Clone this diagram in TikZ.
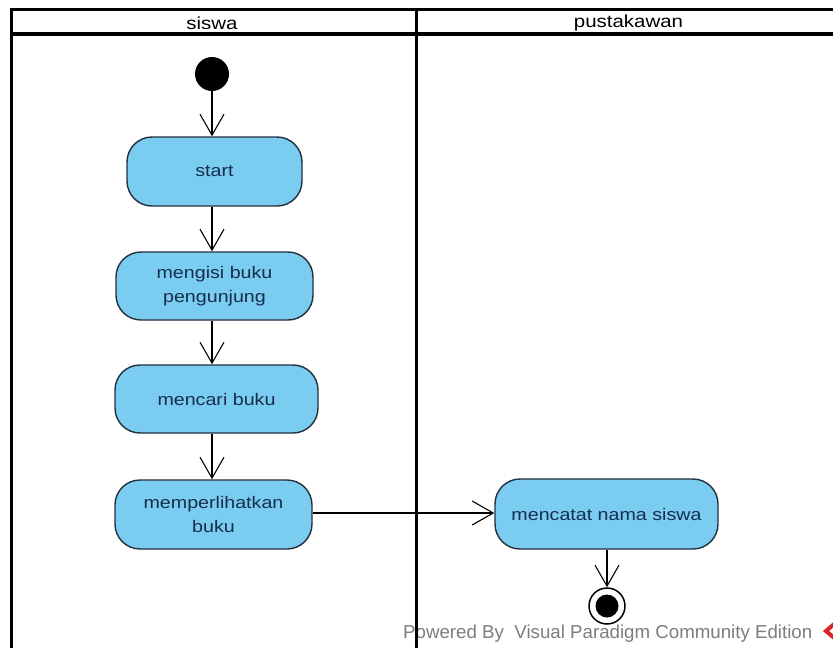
\documentclass[tikz,border=0pt]{standalone}
\usepackage{fontspec}
\setmainfont{Liberation Sans}
\newfontfamily\vpfont[FakeStretch=1.17]{Liberation Sans}
\usetikzlibrary{arrows.meta,positioning}
\definecolor{actfill}{RGB}{122,205,240}
\definecolor{actdraw}{RGB}{35,48,62}
\definecolor{acttext}{RGB}{22,45,75}
\definecolor{wmgray}{RGB}{125,125,125}
\definecolor{vpred}{RGB}{215,40,40}
\tikzset{
  action/.style={draw=actdraw, fill=actfill, line width=1.4pt, rounded corners=25pt,
    inner sep=0pt, align=center, text=acttext,
    font=\vpfont\fontsize{16.8}{24.5}\selectfont},
  lane/.style={line width=3pt, draw=black},
  flow/.style={line width=1.1pt, -{Straight Barb[length=21pt,width=24pt,line width=1.1pt]}},
  header/.style={font=\vpfont\fontsize{17.5}{19}\selectfont, text=black, inner sep=0pt}
}
\begin{document}
\begin{tikzpicture}[x=1pt,y=-1pt]
\useasboundingbox (0,0) rectangle (833,648);
\fill[white] (0,0) rectangle (833,648);
% watermark (below lane lines)
\node[anchor=base west, inner sep=0pt, text=wmgray, font=\fontsize{18.7}{20}\selectfont] (wm) at (403,638) {Powered By\ \ Visual Paradigm Community Edition};
\draw[vpred, line width=4pt] (839,620) -- (826,631) -- (839,642);
% swimlanes
\draw[lane] (11,660) -- (11,9) -- (845,9);
\draw[lane, line width=3.5pt] (11,34) -- (845,34);
\draw[lane] (416,9) -- (416,660);
\node[header] (h1) at (212,23) {siswa};
\node[header] (h2) at (628.5,23) {pustakawan};
% nodes
\node[circle, fill=black, minimum size=34pt, inner sep=0pt] (init) at (212,74) {};
\node[action, minimum width=175pt, minimum height=69pt] (start) at (214.5,171.5) {start};
\node[action, minimum width=197pt, minimum height=68pt] (isi) at (214.5,286) {mengisi buku\\pengunjung};
\node[action, minimum width=203pt, minimum height=68pt] (cari) at (216.5,399) {mencari buku};
\node[action, minimum width=197pt, minimum height=69pt] (lihat) at (213.5,514.5) {memperlihatkan\\buku};
\node[action, minimum width=223pt, minimum height=70pt] (catat) at (606.5,514) {mencatat nama siswa};
\node[circle, draw=black, line width=1.5pt, fill=white, minimum size=36pt, inner sep=0pt] (final) at (607,606) {};
\node[circle, fill=black, minimum size=23pt, inner sep=0pt] (finalin) at (final) {};
% flows
\coordinate (spine) at (212,0);
\draw[flow] (init.south) -- (start.north -| spine);
\draw[flow] (start.south -| spine) -- (isi.north -| spine);
\draw[flow] (isi.south -| spine) -- (cari.north -| spine);
\draw[flow] (cari.south -| spine) -- (lihat.north -| spine);
\draw[flow] (lihat.east |- 0,513) -- (catat.west |- 0,513);
\draw[flow] (catat.south -| final) -- (final.north);
\end{tikzpicture}
\end{document}
